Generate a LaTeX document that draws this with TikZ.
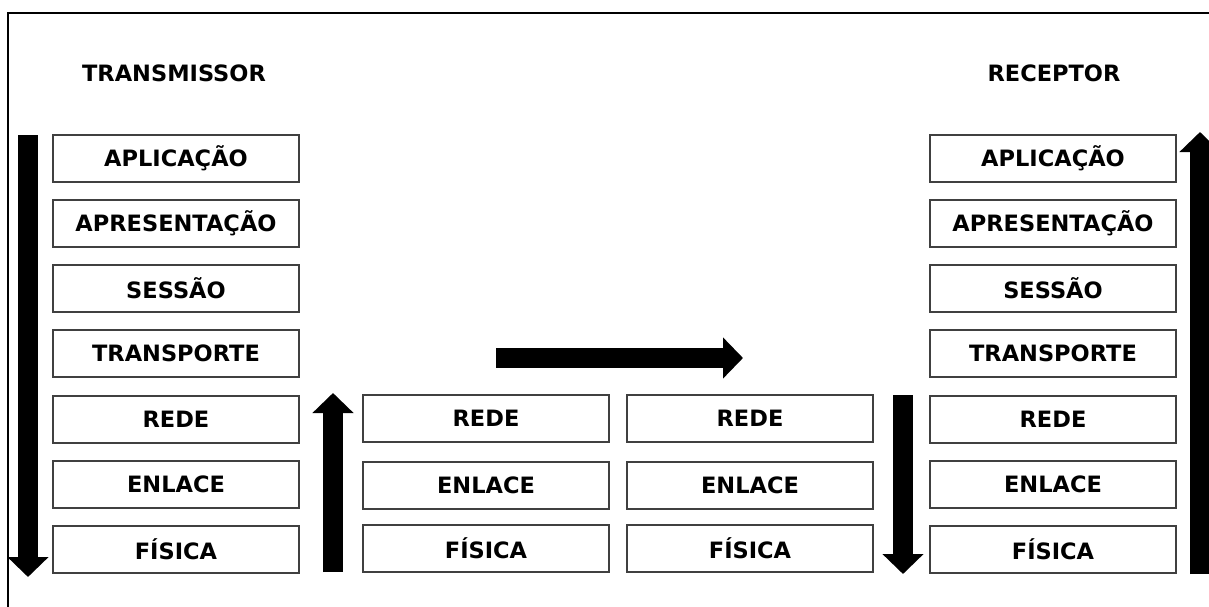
\documentclass[tikz,border=0pt]{standalone}
\usepackage{fontspec}
\setmainfont{DejaVu Sans}
\usetikzlibrary{arrows.meta}

\tikzset{Layer/.style={rectangle, draw=black!75, line width=2pt, fill=white,
                       minimum width=246pt, minimum height=47pt, inner sep=0pt,
                       font=\fontsize{22.5}{26}\selectfont\bfseries}}
\tikzset{Title/.style={font=\fontsize{22.5}{26}\selectfont\bfseries}}
\tikzset{BlockArrow/.style={line width=20pt,
                            -{Triangle[width=40pt,length=20pt]}}}

\begin{document}
\begin{tikzpicture}[x=1pt,y=-1pt]

\useasboundingbox (0,0) rectangle (1209,607);

% Frame
\draw [line width=2pt] (8,607) -- (8,13) -- (1209,13);

% Titles
\node (TT) at (174,73) [Title] {TRANSMISSOR};
\node (RT) at (1054,73) [Title] {RECEPTOR};

% Transmitter stack
\node (T1) at (176,158) [Layer] {APLICAÇÃO};
\node (T2) at (176,223) [Layer] {APRESENTAÇÃO};
\node (T3) at (176,288) [Layer] {SESSÃO};
\node (T4) at (176,353) [Layer] {TRANSPORTE};
\node (T5) at (176,419) [Layer] {REDE};
\node (T6) at (176,484) [Layer] {ENLACE};
\node (T7) at (176,549) [Layer] {FÍSICA};

% Intermediate nodes
\node (M1) at (486,418) [Layer] {REDE};
\node (M2) at (486,485) [Layer] {ENLACE};
\node (M3) at (486,548) [Layer] {FÍSICA};

\node (N1) at (750,418) [Layer] {REDE};
\node (N2) at (750,485) [Layer] {ENLACE};
\node (N3) at (750,548) [Layer] {FÍSICA};

% Receiver stack
\node (R1) at (1053,158) [Layer] {APLICAÇÃO};
\node (R2) at (1053,223) [Layer] {APRESENTAÇÃO};
\node (R3) at (1053,288) [Layer] {SESSÃO};
\node (R4) at (1053,353) [Layer] {TRANSPORTE};
\node (R5) at (1053,419) [Layer] {REDE};
\node (R6) at (1053,484) [Layer] {ENLACE};
\node (R7) at (1053,549) [Layer] {FÍSICA};

% Arrow ends
\coordinate (downT) at (28,135);
\coordinate (downTend) at (28,577);
\coordinate (upM) at (333,572);
\coordinate (upMend) at (333,393);
\coordinate (flow) at (496,358);
\coordinate (flowend) at (743,358);
\coordinate (downR) at (903,395);
\coordinate (downRend) at (903,574);
\coordinate (upR) at (1200,574);
\coordinate (upRend) at (1200,132);

\draw [BlockArrow] (downT) -- (downTend);
\draw [BlockArrow] (upM) -- (upMend);
\draw [BlockArrow] (flow) -- (flowend);
\draw [BlockArrow] (downR) -- (downRend);
\draw [BlockArrow] (upR) -- (upRend);

\end{tikzpicture}
\end{document}
